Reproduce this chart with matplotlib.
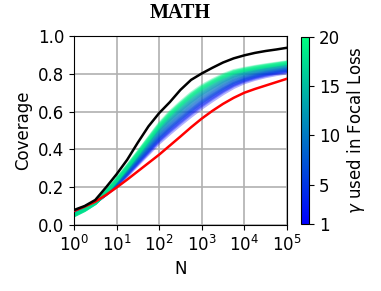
import matplotlib
matplotlib.use("Agg")
import matplotlib.pyplot as plt
from matplotlib import cm, colors, ticker

# sample sizes N (quarter-decade points)
N = [1, 1.778, 3.162, 5.623, 10, 17.78, 31.62, 56.23, 100, 177.8, 316.2, 562.3,
     1000, 1778, 3162, 5623, 10000, 17783, 31623, 56234, 100000]

oracle = [0.079, 0.100, 0.132, 0.198, 0.268, 0.345, 0.436, 0.522, 0.592, 0.650, 0.715,
          0.768, 0.802, 0.832, 0.860, 0.882, 0.898, 0.911, 0.921, 0.929, 0.938]
baseline = [0.074, 0.097, 0.123, 0.158, 0.198, 0.240, 0.284, 0.328, 0.372, 0.420, 0.468,
            0.517, 0.563, 0.604, 0.641, 0.673, 0.700, 0.720, 0.738, 0.756, 0.774]

gammas = list(range(1, 21))
focal_g1 = [.060, .088, .122, .162, .206, .262, .321, .378, .436, .486, .533, .578, .621, .660, .697, .730, .755, .773, .787, .798, .807]
focal_g2 = [.059, .087, .121, .163, .209, .267, .327, .386, .446, .497, .544, .590, .632, .671, .707, .739, .762, .779, .793, .804, .813]
focal_g3 = [.059, .087, .121, .164, .211, .269, .330, .390, .451, .502, .550, .596, .638, .676, .712, .743, .766, .783, .796, .806, .815]
focal_g4 = [.058, .086, .121, .164, .213, .272, .333, .394, .455, .508, .556, .601, .644, .681, .716, .747, .769, .786, .799, .809, .818]
focal_g5 = [.058, .086, .120, .165, .215, .274, .337, .398, .460, .513, .562, .607, .650, .687, .721, .751, .773, .789, .802, .812, .821]
focal_g6 = [.057, .085, .120, .165, .216, .276, .340, .402, .465, .519, .567, .613, .655, .692, .726, .756, .777, .792, .805, .815, .824]
focal_g7 = [.057, .085, .120, .166, .218, .279, .343, .406, .470, .524, .573, .619, .661, .697, .731, .760, .780, .795, .808, .818, .826]
focal_g8 = [.056, .084, .119, .166, .220, .281, .346, .410, .475, .530, .579, .625, .667, .702, .736, .764, .784, .799, .811, .820, .829]
focal_g9 = [.055, .083, .118, .167, .223, .286, .352, .418, .485, .541, .590, .637, .678, .713, .746, .773, .791, .805, .817, .826, .835]
focal_g10 = [.055, .083, .118, .168, .225, .288, .355, .422, .489, .546, .596, .642, .684, .718, .750, .777, .795, .808, .819, .829, .837]
focal_g11 = [.054, .082, .118, .168, .226, .291, .358, .426, .494, .551, .601, .648, .689, .724, .755, .781, .798, .811, .822, .832, .840]
focal_g12 = [.054, .082, .117, .169, .228, .293, .361, .430, .499, .557, .607, .654, .695, .729, .760, .785, .802, .815, .825, .834, .843]
focal_g13 = [.053, .081, .117, .169, .230, .296, .364, .434, .504, .562, .613, .660, .701, .734, .765, .790, .805, .818, .828, .837, .846]
focal_g14 = [.053, .081, .117, .170, .232, .298, .368, .438, .509, .568, .619, .666, .707, .740, .770, .794, .809, .821, .831, .840, .848]
focal_g15 = [.052, .080, .116, .170, .233, .300, .371, .442, .514, .573, .624, .672, .712, .745, .775, .798, .813, .824, .834, .843, .851]
focal_g16 = [.052, .080, .116, .171, .235, .303, .374, .446, .518, .579, .630, .677, .718, .750, .779, .802, .816, .827, .837, .846, .854]
focal_g17 = [.051, .079, .116, .171, .237, .305, .377, .450, .523, .584, .636, .683, .724, .755, .784, .807, .820, .831, .840, .848, .857]
focal_g18 = [.051, .079, .115, .172, .238, .308, .380, .454, .528, .590, .641, .689, .729, .761, .789, .811, .823, .834, .843, .851, .859]
focal_g19 = [.050, .078, .115, .172, .240, .310, .383, .458, .533, .595, .647, .695, .735, .766, .794, .815, .827, .837, .846, .854, .862]
focal_g20 = [.051, .079, .116, .171, .237, .306, .378, .452, .525, .586, .638, .686, .726, .758, .786, .808, .821, .832, .841, .850, .858]
focal = [focal_g1, focal_g2, focal_g3, focal_g4, focal_g5, focal_g6, focal_g7,
         focal_g8, focal_g9, focal_g10, focal_g11, focal_g12, focal_g13,
         focal_g14, focal_g15, focal_g16, focal_g17, focal_g18, focal_g19,
         focal_g20]

cbar_ticks = [1, 5, 10, 15, 20]

plt.rcParams['font.family'] = ['DejaVu Sans']
fig = plt.figure(figsize=(3.81, 2.91), dpi=100)
ax = fig.add_axes([0.194, 0.227, 0.559, 0.649])

cmap = plt.get_cmap('winter')
norm = colors.Normalize(vmin=1, vmax=20)

ax.grid(True, color='#b0b0b0', linewidth=1.2, zorder=0)
for g, vals in zip(gammas, focal):
    ax.plot(N, vals, color=cmap(norm(g)), alpha=0.3, lw=2.8, zorder=2)
ax.plot(N, baseline, color='red', lw=1.8, zorder=3)
ax.plot(N, oracle, color='black', lw=1.8, zorder=3)

ax.set_xscale('log')
ax.set_xlim(1, 1e5)
ax.set_ylim(0, 1)
ax.set_xticks([1, 10, 100, 1e3, 1e4, 1e5])
ax.xaxis.set_minor_locator(ticker.NullLocator())
ax.set_yticks([0, 0.2, 0.4, 0.6, 0.8, 1.0])
ax.tick_params(labelsize=12)
ax.set_xlabel('N', fontsize=12)
ax.set_ylabel('Coverage', fontsize=12)
ax.set_title('MATH', fontsize=14.5, fontweight='bold', family='Liberation Serif', pad=13)
ax.set_axisbelow(True)

cax = fig.add_axes([0.790, 0.230, 0.021, 0.643])
sm = cm.ScalarMappable(norm=norm, cmap=cmap)
cb = fig.colorbar(sm, cax=cax, ticks=cbar_ticks)
cb.ax.tick_params(labelsize=12)
cb.set_label('$\\gamma$ used in Focal Loss', fontsize=12)

fig.savefig('out.png', dpi=100)
